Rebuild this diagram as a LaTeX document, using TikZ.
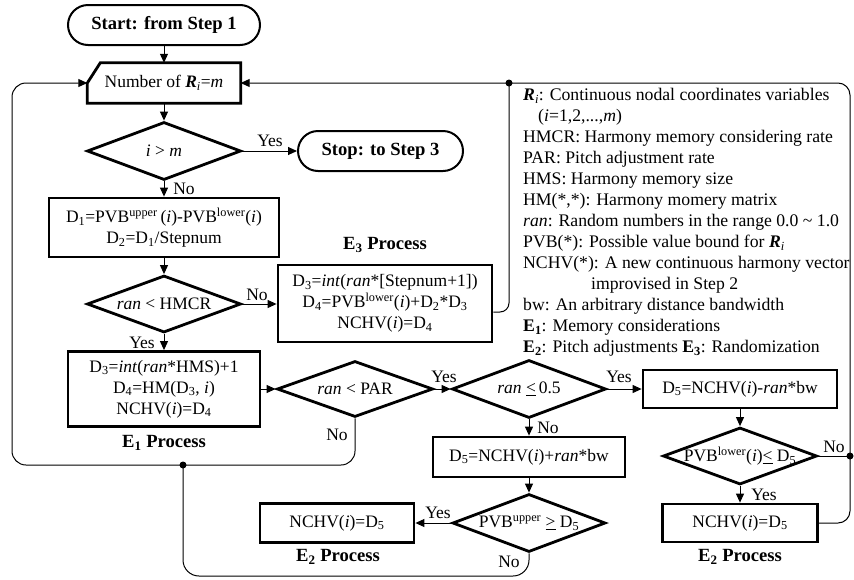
\documentclass[tikz,border=0pt]{standalone}
\usepackage{fontspec}
\setmainfont{Liberation Serif}
\usetikzlibrary{shapes.geometric,arrows.meta}
\begin{document}
\begin{tikzpicture}[x=1pt,y=-1pt,
  every node/.style={font=\fontsize{17.5}{21}\selectfont},
  term/.style={draw, line width=2pt, rounded corners=20pt, minimum height=40pt, inner sep=0pt, font=\fontsize{18.6}{21}\selectfont\bfseries},
  proc/.style={draw, line width=2.8pt, align=center, inner sep=0pt},
  dia/.style={draw, diamond, line width=2.8pt, inner sep=0pt},
  conn/.style={line width=1pt},
  arr/.style={line width=1pt, -{Triangle[length=9pt,width=8pt]}},
  lab/.style={inner sep=0pt},
  proclab/.style={font=\fontsize{18.6}{21}\selectfont\bfseries, inner sep=0pt},
  dot/.style={circle, fill, inner sep=0pt, minimum size=7pt}]
\useasboundingbox (0,0) rectangle (854,579);

% terminals
\node[term, minimum width=192pt] (start) at (164,25) {Start: from Step 1};
\node[term, minimum width=165pt] (stop) at (380.5,151) {Stop: to Step 3};

% manual input
\node[inner sep=0pt, minimum width=153pt, minimum height=40pt] (num) at (164,83) {Number of \textbf{\textit{R}}\textsubscript{\textit{i}}=\textit{m}};
\draw[line width=2.8pt, line join=miter] (num.south west) -- (num.west) -- ([xshift=13pt]num.north west) -- (num.north east) -- (num.south east) -- cycle;

% diamonds
\node[dia, minimum width=154pt, minimum height=58pt] (dim) at (164,151) {};
\node[lab] (dimt) at (dim) {\textit{i} > \textit{m}};
\node[dia, minimum width=154pt, minimum height=57pt] (dhm) at (164,304) {};
\node[lab] (dhmt) at (dhm) {\textit{ran} < HMCR};
\node[dia, minimum width=156pt, minimum height=56pt] (dpar) at (355,389) {};
\node[lab] (dpart) at (dpar) {\textit{ran} < PAR};
\node[dia, minimum width=154pt, minimum height=58pt] (d05) at (529,389) {};
\node[lab] (d05t) at (d05) {\textit{ran} \underline{<}\,0.5};
\node[dia, minimum width=153pt, minimum height=58pt] (dpu) at (529,523) {};
\node[lab] (dput) at (dpu) {PVB\textsuperscript{upper} \underline{>} D\textsubscript{5}};
\node[dia, minimum width=154pt, minimum height=57pt] (dpl) at (740,456) {};
\node[lab] (dplt) at (dpl) {PVB\textsuperscript{lower}(\textit{i})\underline{<} D\textsubscript{5}};

% process boxes
\node[proc, minimum width=230pt, minimum height=59pt] (b1) at (164,227.5) {D\textsubscript{1}=PVB\textsuperscript{upper}\,(\textit{i})-PVB\textsuperscript{lower}(\textit{i})\\D\textsubscript{2}=D\textsubscript{1}/Stepnum};
\node[proc, minimum width=214pt, minimum height=77pt] (e3) at (385,303.5) {D\textsubscript{3}=\textit{int}(\textit{ran}*[Stepnum+1])\\D\textsubscript{4}=PVB\textsuperscript{lower}(\textit{i})+D\textsubscript{2}*D\textsubscript{3}\\NCHV(\textit{i})=D\textsubscript{4}};
\node[proc, minimum width=192pt, minimum height=75pt] (e1) at (164,389) {D\textsubscript{3}=\textit{int}(\textit{ran}*HMS)+1\\D\textsubscript{4}=HM(D\textsubscript{3}, \textit{i})\\NCHV(\textit{i})=D\textsubscript{4}};
\node[proc, minimum width=194pt, minimum height=38pt] (d5m) at (740,389) {D\textsubscript{5}=NCHV(\textit{i})-\textit{ran}*bw};
\node[proc, minimum width=192pt, minimum height=40pt] (d5p) at (529,457) {D\textsubscript{5}=NCHV(\textit{i})+\textit{ran}*bw};
\node[proc, minimum width=154pt, minimum height=39pt] (nchv1) at (337,523) {NCHV(\textit{i})=D\textsubscript{5}};
\node[proc, minimum width=155pt, minimum height=38pt] (nchv2) at (740,523) {NCHV(\textit{i})=D\textsubscript{5}};

% process labels
\node[proclab] (p3) at (385,245) {E\textsubscript{3} Process};
\node[proclab] (p1) at (164,443) {E\textsubscript{1} Process};
\node[proclab] (p2a) at (338,557) {E\textsubscript{2} Process};
\node[proclab] (p2b) at (740,557) {E\textsubscript{2} Process};

% junction dots
\node[dot] (j1) at (183,465) {};
\node[dot] (j2) at (509,83) {};
\node[dot] (j3) at (850,456) {};

% connectors
\draw[arr] (start) -- (num);
\draw[arr] (num) -- (dim);
\draw[arr] (dim.east) -- (stop.west);
\draw[arr] (dim) -- (b1);
\draw[arr] (b1) -- (dhm);
\draw[arr] (dhm.east) -- (dhm.east -| e3.west);
\draw[arr] (dhm) -- (e1);
\draw[arr] (e1.east) -- (dpar.west);
\draw[arr] (dpar.east) -- (d05.west);
\draw[arr] (d05.east) -- (d5m.west);
\draw[arr] (d05) -- (d5p);
\draw[arr] (d5p) -- (dpu);
\draw[arr] (dpu.west) -- (nchv1.east);
\draw[arr] (d5m) -- (dpl);
\draw[arr] (dpl) -- (nchv2);
\draw[conn] (dpl.east) -- (j3.center);
\draw[arr, rounded corners=12pt] (nchv2.east) -| (850,83) -- (num.east);
\draw[arr, rounded corners=14pt] (dpar.south) |- (12,465) |- (num.west);
\draw[conn, rounded corners=16pt] (dpu.south) |- (183,576) -- (j1.center);
\draw[conn, rounded corners=9pt] ([yshift=-8.5pt]e3.east) -| (j2.center);

% branch labels
\node[lab] (y1) at (270,141) {Yes};
\node[lab] (n1) at (184,189) {No};
\node[lab] (n2) at (257,295) {No};
\node[lab] (y2) at (142,343) {Yes};
\node[lab] (y3) at (444,377) {Yes};
\node[lab] (n3) at (337,435) {No};
\node[lab] (y4) at (619,377) {Yes};
\node[lab] (n4) at (548,428) {No};
\node[lab] (y5) at (438,513) {Yes};
\node[lab] (n5) at (509,562) {No};
\node[lab] (n6) at (834,447) {No};
\node[lab] (y6) at (764,495) {Yes};

% legend
\node[anchor=north west, align=left, inner sep=0pt, font=\fontsize{17.7}{21}\selectfont] (leg) at (523,88) {%
\textbf{\textit{R}}\textsubscript{\textit{i}}: Continuous nodal coordinates variables\\
\hspace*{15pt}(\textit{i}=1,2,...,\textit{m})\\
HMCR: Harmony memory considering rate\\
PAR: Pitch adjustment rate\\
HMS: Harmony memory size\\
HM(*,*): Harmony momery matrix\\
\textit{ran}: Random numbers in the range 0.0 \textasciitilde{} 1.0\\
PVB(*): Possible value bound for \textbf{\textit{R}}\textsubscript{\textit{i}}\\
NCHV(*): A new continuous harmony vector\\
\hspace*{68pt}improvised in Step 2\\
bw: An arbitrary distance bandwidth\\
\textbf{E\textsubscript{1}}: Memory considerations\\
\textbf{E\textsubscript{2}}: Pitch adjustments \textbf{E\textsubscript{3}}: Randomization};
\end{tikzpicture}
\end{document}
